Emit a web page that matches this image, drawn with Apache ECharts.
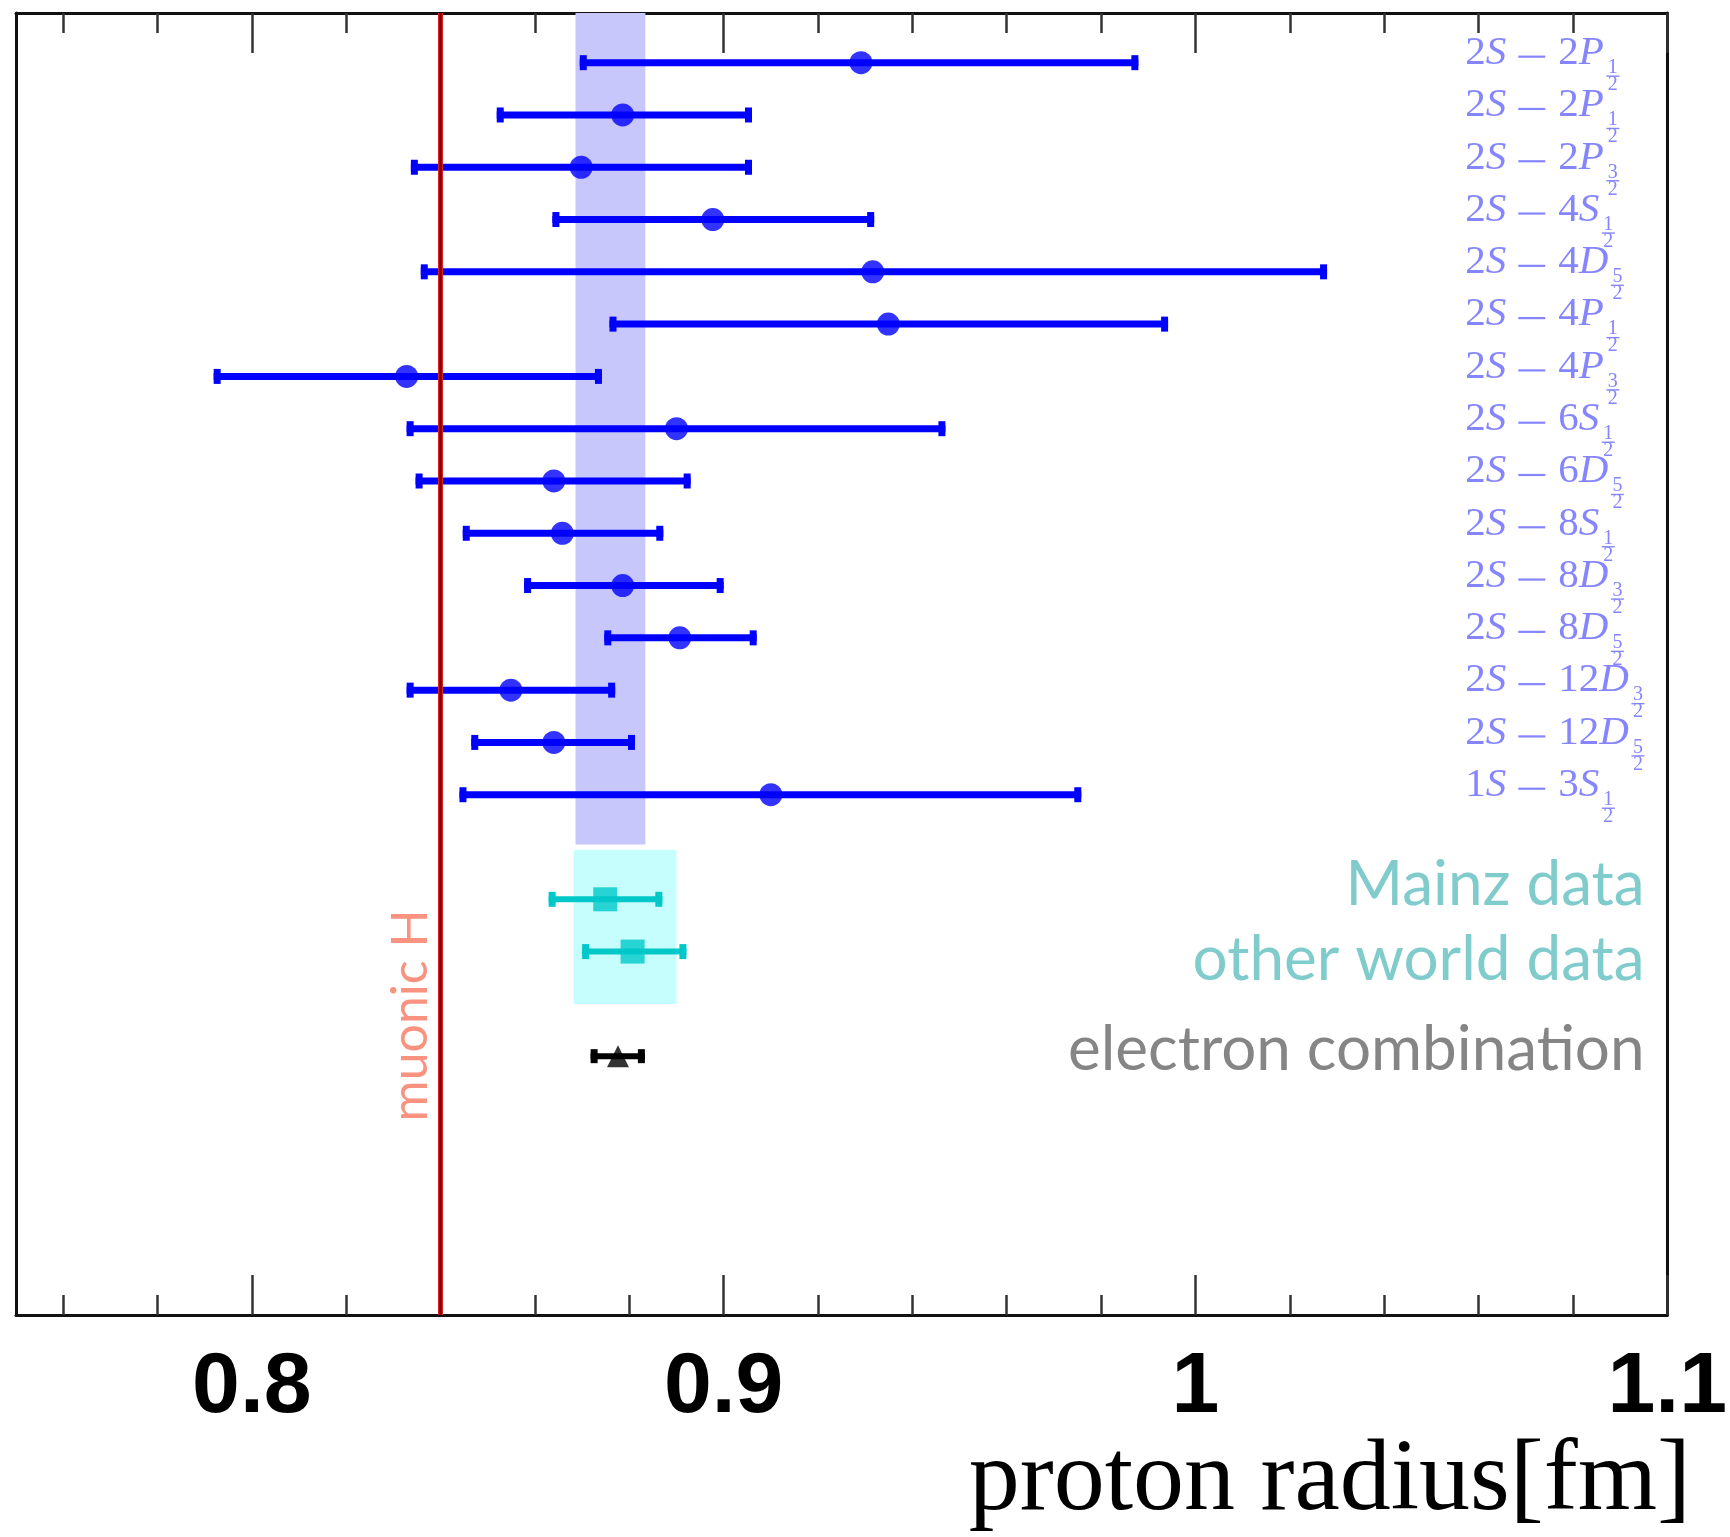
<!DOCTYPE html>
<html>
<head>
<meta charset="utf-8">
<script src="https://cdn.jsdelivr.net/npm/echarts@6/dist/echarts.min.js"></script>
<style>
  html, body { margin: 0; padding: 0; background: #ffffff; }
  #chart { width: 1730px; height: 1537px; }
</style>
</head>
<body>
<div id="chart"></div>
<script>
// hydrogen spectroscopy transitions, top to bottom
const transitions = ['2S−2P', '2S−2P', '2S−2P', '2S−4S', '2S−4D', '2S−4P', '2S−4P', '2S−6S',
  '2S−6D', '2S−8S', '2S−8D', '2S−8D', '2S−12D', '2S−12D', '1S−3S'];
const jValues = ['1/2', '1/2', '3/2', '1/2', '5/2', '1/2', '3/2', '1/2', '5/2', '1/2', '3/2', '5/2', '3/2', '5/2', '1/2'];
const hRows = [1, 2, 3, 4, 5, 6, 7, 8, 9, 10, 11, 12, 13, 14, 15];
const hRadius = [0.9291, 0.8786, 0.8698, 0.8977, 0.9316, 0.9349, 0.8328, 0.8900, 0.8640, 0.8658, 0.8786, 0.8907, 0.8549, 0.8640, 0.9100];
const hLow = [0.8695, 0.8519, 0.8337, 0.8637, 0.8358, 0.8758, 0.7919, 0.8328, 0.8347, 0.8447, 0.8577, 0.8747, 0.8328, 0.8465, 0.8440];
const hHigh = [0.9879, 0.9060, 0.9060, 0.9319, 1.0279, 0.9942, 0.8742, 0.9470, 0.8930, 0.8872, 0.9000, 0.9070, 0.8770, 0.8812, 0.9758];

// electron scattering
const scatNames = ['Mainz data', 'other world data'];
const scatRows = [17, 18];
const scatRadius = [0.8749, 0.8807];
const scatLow = [0.8629, 0.8700];
const scatHigh = [0.8870, 0.8921];

// electron combination
const combRow = [20];
const combRadius = [0.8776];
const combLow = [0.8718];
const combHigh = [0.8833];

// averaged bands [xFrom, xTo, rowFrom, rowTo]
const hBand = [0.8686, 0.8834, 0, 15.95];
const scatBand = [0.8682, 0.8900, 16.05, 19.0];

const muonicH = 0.84087;

const majorTicks = [0.8, 0.9, 1, 1.1];
const minorTicks = [0.76, 0.78, 0.82, 0.84, 0.86, 0.88, 0.92, 0.94, 0.96, 0.98, 1.02, 1.04, 1.06, 1.08];

// text annotations (anchor in data units)
const annoText = ['Mainz data', 'other world data', 'electron combination'];
const annoRow = [16.73, 18.17, 19.89];
const annoColor = ['#80cbcb', '#80cbcb', '#858585'];

const labelX = 1.0572;
const annoX = 1.0952;
const serif = '"Liberation Serif", "DejaVu Serif", serif';
const labelColor = '#8585ff';

const measureCtx = document.createElement('canvas').getContext('2d');
function textWidth(t, font) {
  measureCtx.font = font;
  return measureCtx.measureText(t).width;
}

function errorBars(color, lineWidth, capW, capH) {
  return function (params, api) {
    const row = api.value(2);
    const a = api.coord([api.value(0), row]);
    const b = api.coord([api.value(1), row]);
    return {
      type: 'group',
      children: [
        { type: 'line', shape: { x1: a[0], y1: a[1], x2: b[0], y2: b[1] }, style: { stroke: color, lineWidth: lineWidth } },
        { type: 'rect', shape: { x: a[0], y: a[1] - capH / 2, width: capW, height: capH }, style: { fill: color } },
        { type: 'rect', shape: { x: b[0] - capW, y: b[1] - capH / 2, width: capW, height: capH }, style: { fill: color } }
      ]
    };
  };
}

// "2S − 2P" followed by a stacked j fraction
function transitionLabel(params, api) {
  const i = params.dataIndex;
  const p = api.coord([labelX, hRows[i]]);
  const halves = transitions[i].split('−');
  const children = [];
  let x = p[0];
  function piece(t, style) {
    const font = style + ' 41px ' + serif;
    children.push({ type: 'text', style: { x: x, y: p[1] - 9.5, text: t, font: font, fill: labelColor, verticalAlign: 'middle' } });
    x += textWidth(t, font);
  }
  piece(halves[0].slice(0, -1), 'normal');
  piece(halves[0].slice(-1), 'italic');
  x += 12;
  children.push({ type: 'line', shape: { x1: x, y1: p[1] - 6, x2: x + 27, y2: p[1] - 6 }, style: { stroke: labelColor, lineWidth: 2.2 } });
  x += 27 + 13;
  piece(halves[1].slice(0, -1), 'normal');
  piece(halves[1].slice(-1), 'italic');
  const frac = jValues[i].split('/');
  const fx = x + 9;
  const fFont = 'normal 20px ' + serif;
  children.push({ type: 'text', style: { x: fx, y: p[1] + 5, text: frac[0], font: fFont, fill: labelColor, align: 'center', verticalAlign: 'middle' } });
  children.push({ type: 'line', shape: { x1: fx - 6.5, y1: p[1] + 13.5, x2: fx + 6.5, y2: p[1] + 13.5 }, style: { stroke: labelColor, lineWidth: 1.4 } });
  children.push({ type: 'text', style: { x: fx, y: p[1] + 22, text: frac[1], font: fFont, fill: labelColor, align: 'center', verticalAlign: 'middle' } });
  return { type: 'group', children: children };
}

function annotation(params, api) {
  const i = params.dataIndex;
  const p = api.coord([annoX, annoRow[i]]);
  return {
    type: 'text',
    style: { x: p[0], y: p[1], text: annoText[i], font: 'normal 62px Lato, "Open Sans", sans-serif', fill: annoColor[i], align: 'right', verticalAlign: 'middle' }
  };
}

function muonLabel(params, api) {
  const p = api.coord([api.value(0), api.value(1)]);
  return {
    type: 'text',
    x: p[0], y: p[1], rotation: Math.PI / 2,
    style: { x: 0, y: 0, text: 'muonic H', font: 'normal 50px Lato, "Open Sans", sans-serif', fill: '#f99380', align: 'center', verticalAlign: 'middle' }
  };
}

const tickLine = { color: '#333333', width: 2.5 };

const baseX = { type: 'value', min: 0.75, max: 1.1, splitLine: { show: false } };

const option = {
  animation: false,
  backgroundColor: '#ffffff',
  title: {
    text: 'proton radius[fm]',
    right: 34,
    top: 1426,
    textStyle: { fontFamily: serif, fontSize: 102, fontWeight: 'normal', color: '#000000' }
  },
  grid: { left: 16, right: 53, top: 13, bottom: 222 },
  xAxis: [
    Object.assign({}, baseX, {
      position: 'bottom',
      axisLine: { show: true, lineStyle: { color: '#111111', width: 3 } },
      axisTick: { show: true, inside: true, length: 40, customValues: majorTicks, lineStyle: tickLine },
      axisLabel: {
        show: true, customValues: majorTicks, margin: 30,
        fontFamily: '"Liberation Sans", Arial, sans-serif', fontWeight: 'bold', fontSize: 86, color: '#000000'
      }
    }),
    Object.assign({}, baseX, {
      position: 'bottom',
      axisLine: { show: false },
      axisTick: { show: true, inside: true, length: 20, customValues: minorTicks, lineStyle: tickLine },
      axisLabel: { show: false }
    }),
    Object.assign({}, baseX, {
      position: 'top',
      axisLine: { show: true, lineStyle: { color: '#111111', width: 3 } },
      axisTick: { show: true, inside: true, length: 40, customValues: majorTicks, lineStyle: tickLine },
      axisLabel: { show: false }
    }),
    Object.assign({}, baseX, {
      position: 'top',
      axisLine: { show: false },
      axisTick: { show: true, inside: true, length: 20, customValues: minorTicks, lineStyle: tickLine },
      axisLabel: { show: false }
    })
  ],
  yAxis: [
    {
      type: 'value', inverse: true, min: 0.05, max: 24.95, position: 'left',
      axisLine: { show: true, lineStyle: { color: '#111111', width: 3 } },
      axisTick: { show: false }, axisLabel: { show: false }, splitLine: { show: false }
    },
    {
      type: 'value', inverse: true, min: 0.05, max: 24.95, position: 'right',
      axisLine: { show: true, lineStyle: { color: '#111111', width: 3 } },
      axisTick: { show: false }, axisLabel: { show: false }, splitLine: { show: false }
    }
  ],
  series: [
    {
      name: 'bands', type: 'scatter', data: [], z: 1, silent: true,
      markArea: {
        silent: true,
        data: [
          [{ xAxis: hBand[0], yAxis: hBand[2], itemStyle: { color: '#c7c7fb' } }, { xAxis: hBand[1], yAxis: hBand[3] }],
          [{ xAxis: scatBand[0], yAxis: scatBand[2], itemStyle: { color: '#c6fdfd' } }, { xAxis: scatBand[1], yAxis: scatBand[3] }]
        ]
      }
    },
    {
      name: 'H bars', type: 'custom', z: 3, silent: true,
      renderItem: errorBars('#0000ff', 7, 7, 15),
      encode: { x: [0, 1], y: 2 },
      data: hLow.map((v, i) => [v, hHigh[i], hRows[i]])
    },
    {
      name: 'H', type: 'scatter', z: 4, symbol: 'circle', symbolSize: 23,
      itemStyle: { color: '#0000ff' },
      data: hRadius.map((v, i) => [v, hRows[i]])
    },
    {
      name: 'scattering bars', type: 'custom', z: 3, silent: true,
      renderItem: errorBars('#00c8c8', 6, 7, 15),
      encode: { x: [0, 1], y: 2 },
      data: scatLow.map((v, i) => [v, scatHigh[i], scatRows[i]])
    },
    {
      name: 'scattering', type: 'scatter', z: 4, symbol: 'rect', symbolSize: 24,
      itemStyle: { color: '#00c8c8' },
      data: scatRadius.map((v, i) => [v, scatRows[i]])
    },
    {
      name: 'combination bars', type: 'custom', z: 3, silent: true,
      renderItem: errorBars('#000000', 6, 7, 14),
      encode: { x: [0, 1], y: 2 },
      data: combLow.map((v, i) => [v, combHigh[i], combRow[i]])
    },
    {
      name: 'combination', type: 'scatter', z: 4, symbol: 'triangle', symbolSize: 22,
      itemStyle: { color: '#000000' },
      data: combRadius.map((v, i) => [v, combRow[i]])
    },
    {
      name: 'muonic H', type: 'scatter', data: [], z: 6, silent: true,
      markLine: {
        silent: true, symbol: 'none', label: { show: false },
        data: [
          { xAxis: muonicH, lineStyle: { color: '#e02020', width: 5, type: 'solid' } },
          { xAxis: muonicH, lineStyle: { color: '#7a0000', width: 2.5, type: 'solid' } }
        ]
      }
    },
    {
      name: 'transition labels', type: 'custom', z: 7, silent: true,
      renderItem: transitionLabel,
      encode: { x: 0, y: 1 },
      data: hRows.map(r => [labelX, r])
    },
    {
      name: 'annotations', type: 'custom', z: 7, silent: true,
      renderItem: annotation,
      encode: { x: 0, y: 1 },
      data: annoRow.map(r => [annoX, r])
    },
    {
      name: 'muon label', type: 'custom', z: 7, silent: true,
      renderItem: muonLabel,
      encode: { x: 0, y: 1 },
      data: [[0.8338, 19.22]]
    }
  ]
};

const chart = echarts.init(document.getElementById('chart'));
chart.setOption(option);
</script>
</body>
</html>
